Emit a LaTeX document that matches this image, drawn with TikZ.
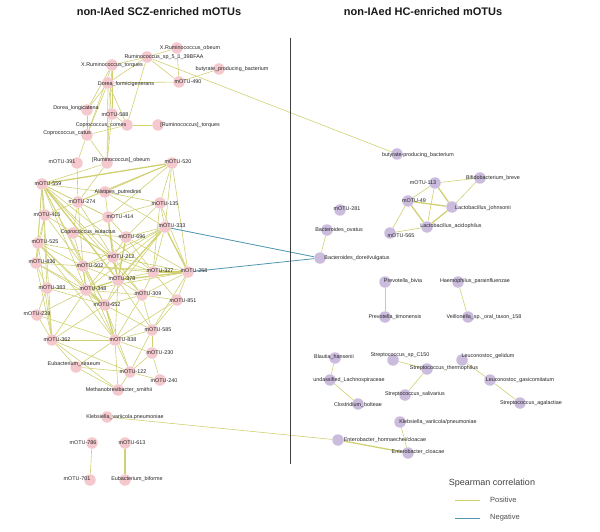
\documentclass[tikz,border=0pt]{standalone}
\usepackage{fontspec}
\setmainfont{Liberation Sans}
\pgfdeclarelayer{bg}
\pgfsetlayers{bg,main}
\definecolor{pinkn}{RGB}{244,200,205}
\definecolor{purpn}{RGB}{203,188,222}
\definecolor{posc}{RGB}{208,208,115}
\definecolor{negc}{RGB}{80,150,180}
\definecolor{txt}{RGB}{35,35,35}
\tikzset{
  pk/.style={circle,fill=pinkn,inner sep=0pt,minimum size=11.5pt},
  pu/.style={circle,fill=purpn,inner sep=0pt,minimum size=11.5pt},
  lb/.style={inner sep=0pt,text=txt,font=\fontsize{5.4}{6}\selectfont},
  ttl/.style={inner sep=0pt,text=black!90,font=\fontsize{11}{13}\selectfont\bfseries},
  pe/.style={draw=posc,line width=0.6pt},
  pt/.style={draw=posc,line width=1.3pt},
  ne/.style={draw=negc,line width=0.8pt},
  lgt/.style={inner sep=0pt,text=black!70,font=\fontsize{7.5}{9}\selectfont},
}
\begin{document}
\begin{tikzpicture}[x=1pt,y=-1pt]
\useasboundingbox (0,0) rectangle (600,532);
% titles
\node[ttl] (title1) at (159,12) {non-IAed SCZ-enriched mOTUs};
\node[ttl] (title2) at (423,12) {non-IAed HC-enriched mOTUs};
% divider
\node[inner sep=0pt] (dtop) at (290,37) {};
\node[inner sep=0pt] (dbot) at (290,465) {};
\draw[black!75,line width=0.6pt] (dtop) -- (dbot);
% left nodes
\foreach \n/\p in {xro/{177,48},rsp/{147,57},xrt/{112,65},bpl/{219,69},dfo/{108,83},m490/{179,82},
 dlo/{87,110},m588/{112,114},cco/{127,125},rto/{158,125},cca/{87,135},m391/{77,163},rob/{107,163},
 m520/{172,163},m559/{42,184},ali/{105,192},m274/{78,202},m135/{160,203},m415/{45,215},m414/{108,217},
 m333/{165,227},ceu/{73,233},m696/{126,237},m525/{38,243},m212/{113,257},m836/{36,263},m502/{83,266},
 m327/{153,272},m258/{188,272},m378/{118,280},m383/{47,288},m348/{86,290},m309/{142,295},m851/{177,300},
 m652/{105,305},m228/{37,315},m585/{152,330},m362/{52,340},m838/{115,340},m230/{152,353},esi/{76,367},
 m122/{130,372},m240/{160,380},msm/{118,390},kvl/{107,417},m786/{92,443},m613/{125,443},m701/{90,480},ebi/{125,480}}
 \node[pk] (\n) at (\p) {};
% right nodes
\foreach \n/\p in {bpr/{397,154},m113/{435,183},bbr/{480,178},m49/{408,201},ljo/{452,207},m281/{340,210},
 lac/{427,227},bov/{327,230},m565/{390,233},bdv/{320,258},pbi/{385,282},hpa/{458,282},pti/{385,317},
 vei/{468,317},bha/{335,358},ssp/{393,360},lge/{462,360},sth/{427,369},ula/{330,380},lga/{490,380},
 ssa/{405,395},cbo/{358,404},sag/{520,403},kvr/{400,422},eho/{338,440},ecl/{408,453}}
 \node[pu] (\n) at (\p) {};
% edges
\begin{pgfonlayer}{bg}
\foreach \a/\b in {xro/m490,xro/rsp,rsp/xrt,rsp/dfo,rsp/m490,xrt/dlo,xrt/cca,dfo/dlo,dfo/m588,dfo/cco,
 dfo/cca,m490/bpl,dfo/m490,cco/rto,cco/cca,cco/m588,dlo/cca,m588/rob,cca/rob,cca/m391,rob/m559,rob/m274,
 xrt/m588,rsp/cco,m391/m274,dfo/rob,xrt/rob,
 m520/ali,m520/m135,m520/m333,m520/m258,m520/m274,m520/m415,m520/m414,
 m559/m274,m559/m415,m559/ali,m559/m414,m559/m525,m559/m212,m559/m502,m559/m327,m559/m348,
 m559/m383,m559/m652,m559/m309,m559/m836,m559/m362,
 m274/m414,m274/m212,m274/m502,m274/ceu,ali/m414,ali/m333,ali/m135,
 m135/m333,m135/m414,m135/m696,m135/m258,m135/m327,
 m415/m525,m415/m502,m415/m212,m415/m836,m414/m696,m414/ceu,m414/m378,
 m333/m696,m333/m212,m333/m327,m333/m502,m333/m348,m333/m652,
 ceu/m696,ceu/m212,ceu/m502,m696/m212,m696/m327,m696/m258,
 m525/m836,m525/m502,m525/m212,m525/m348,m525/m652,m525/m838,m525/m362,
 m212/m502,m212/m327,m212/m258,m212/m348,m212/m309,
 m836/m502,m836/m383,m836/m348,m836/m652,m836/m362,
 m502/m378,m502/m327,m502/m258,m502/m652,m502/m838,
 m327/m378,m327/m309,m327/m851,m258/m309,m258/m851,m258/m585,m258/m348,
 m378/m652,m378/m309,m378/m838,m378/m585,
 m383/m348,m383/m652,m383/m228,m383/m362,
 m348/m309,m348/m838,m348/m362,m348/m228,
 m309/m652,m309/m851,m309/m585,m309/m838,m851/m585,m851/m838,
 m652/m362,m652/m122,m652/m585,m228/m362,m228/m838,
 m585/m838,m585/m122,m585/m230,m362/m838,m362/esi,m362/m122,m362/msm,
 m838/m122,m838/esi,m838/msm,m838/m230,m230/m122,m230/m240,esi/m122,esi/msm,m122/msm,m122/m240,
 m786/m701,kvl/eho,rsp/bpr,
 m113/bbr,m113/m49,m113/lac,m49/m565,m565/lac,bbr/ljo,bov/bdv,pbi/pti,hpa/vei,
 bha/ula,ula/cbo,sth/ssa,ssp/sth,lge/lga,lga/sag,kvr/ecl}
 \draw[pe] (\a) -- (\b);
\foreach \a/\b in {m520/m559,m559/m378,m333/m258,m333/m378,m696/m378,m212/m378,m258/m378,m327/m258,
 m378/m348,m348/m652,m652/m838,m502/m348,m414/m212,m113/ljo,m49/ljo,m49/lac,ljo/lac,m613/ebi,eho/ecl}
 \draw[pt] (\a) -- (\b);
\draw[ne] (m333) -- (bdv);
\draw[ne] (m258) -- (bdv);
\end{pgfonlayer}
% left labels
\foreach \n/\p/\t in {xro/{190,48}/{X.Ruminococcus\_obeum}, rsp/{164,57}/{Ruminococcus\_sp\_5\_1\_39BFAA},
 xrt/{112,65}/{X.Ruminococcus\_torques}, bpl/{232,69}/{butyrate\_producing\_bacterium},
 dfo/{126,84}/{Dorea\_formicigenerans}, m490/{188,82}/{mOTU-490}, dlo/{76,108}/{Dorea\_longicatena},
 m588/{115,115}/{mOTU-588}, cco/{101,125}/{Coprococcus\_comes}, rto/{190,125}/{[Ruminococcus]\_torques},
 cca/{67,133}/{Coprococcus\_catus}, m391/{62,162}/{mOTU-391}, rob/{121,160}/{[Ruminococcus]\_obeum},
 m520/{178,162}/{mOTU-520}, m559/{48,184}/{mOTU-559}, ali/{118,192}/{Alistipes\_putredinis},
 m274/{82,202}/{mOTU-274}, m135/{165,204}/{mOTU-135}, m415/{47,215}/{mOTU-415}, m414/{120,217}/{mOTU-414},
 m333/{172,226}/{mOTU-333}, ceu/{88,232}/{Coprococcus\_eutactus}, m696/{132,237}/{mOTU-696},
 m525/{45,242}/{mOTU-525}, m212/{121,257}/{mOTU-212}, m836/{42,262}/{mOTU-836}, m502/{90,266}/{mOTU-502},
 m327/{160,271}/{mOTU-327}, m258/{194,271}/{mOTU-258}, m378/{122,279}/{mOTU-378}, m383/{52,288}/{mOTU-383},
 m348/{93,289}/{mOTU-348}, m309/{148,294}/{mOTU-309}, m851/{183,301}/{mOTU-851}, m652/{107,305}/{mOTU-652},
 m228/{37,314}/{mOTU-228}, m585/{158,330}/{mOTU-585}, m362/{57,340}/{mOTU-362}, m838/{123,340}/{mOTU-838},
 m230/{160,353}/{mOTU-230}, esi/{74,364}/{Eubacterium\_siraeum}, m122/{133,372}/{mOTU-122},
 m240/{164,381}/{mOTU-240}, msm/{119,390}/{Methanobrevibacter\_smithii},
 kvl/{125,417}/{Klebsiella\_variicola.pneumoniae}, m786/{83,443}/{mOTU-786}, m613/{132,443}/{mOTU-613},
 m701/{77,479}/{mOTU-701}, ebi/{137,479}/{Eubacterium\_biforme}}
 \node[lb] (\n t) at (\p) {\t};
% right labels
\foreach \n/\p/\t in {bpr/{418,155}/{butyrate-producing\_bacterium}, m113/{423,183}/{mOTU-113},
 bbr/{493,178}/{Bifidobacterium\_breve}, m49/{414,201}/{mOTU-49}, ljo/{483,208}/{Lactobacillus\_johnsonii},
 m281/{347,209}/{mOTU-281}, lac/{451,226}/{Lactobacillus\_acidophilus}, bov/{339,230}/{Bacteroides\_ovatus},
 m565/{401,236}/{mOTU-565}, bdv/{357,258}/{Bacteroides\_dorei/vulgatus}, pbi/{403,281}/{Prevotella\_bivia},
 hpa/{475,281}/{Haemophilus\_parainfluenzae}, pti/{395,317}/{Prevotella\_timonensis},
 vei/{484,317}/{Veillonella\_sp.\_oral\_taxon\_158}, bha/{334,357}/{Blautia\_hansenii},
 ssp/{400,355}/{Streptococcus\_sp\_C150}, lge/{488,356}/{Leuconostoc\_gelidum},
 sth/{444,368}/{Streptococcus\_thermophilus}, ula/{349,380}/{undassified\_Lachnospiraceae},
 lga/{520,380}/{Leuconostoc\_gasicomitatum}, ssa/{415,394}/{Streptococcus\_salivarius},
 cbo/{358,405}/{Clostridium\_bolteae}, sag/{531,403}/{Streptococcus\_agalactiae},
 kvr/{438,422}/{Klebsiella\_variicola/pneumoniae}, eho/{385,440}/{Enterobacter\_hormaechei/cloacae},
 ecl/{418,452}/{Enterobacter\_cloacae}}
 \node[lb] (\n t) at (\p) {\t};
% legend
\node[inner sep=0pt,text=black!75,font=\fontsize{9}{11}\selectfont] (lgtitle) at (492,483) {Spearman correlation};
\coordinate (lpa) at (455,500);
\coordinate (lpb) at (480,500);
\coordinate (lna) at (455,518);
\coordinate (lnb) at (480,518);
\draw[draw=posc,line width=0.9pt] (lpa) -- (lpb);
\draw[draw=negc,line width=0.9pt] (lna) -- (lnb);
\node[lgt,anchor=west] (lgpos) at (490,500) {Positive};
\node[lgt,anchor=west] (lgneg) at (490,518) {Negative};
\end{tikzpicture}
\end{document}
